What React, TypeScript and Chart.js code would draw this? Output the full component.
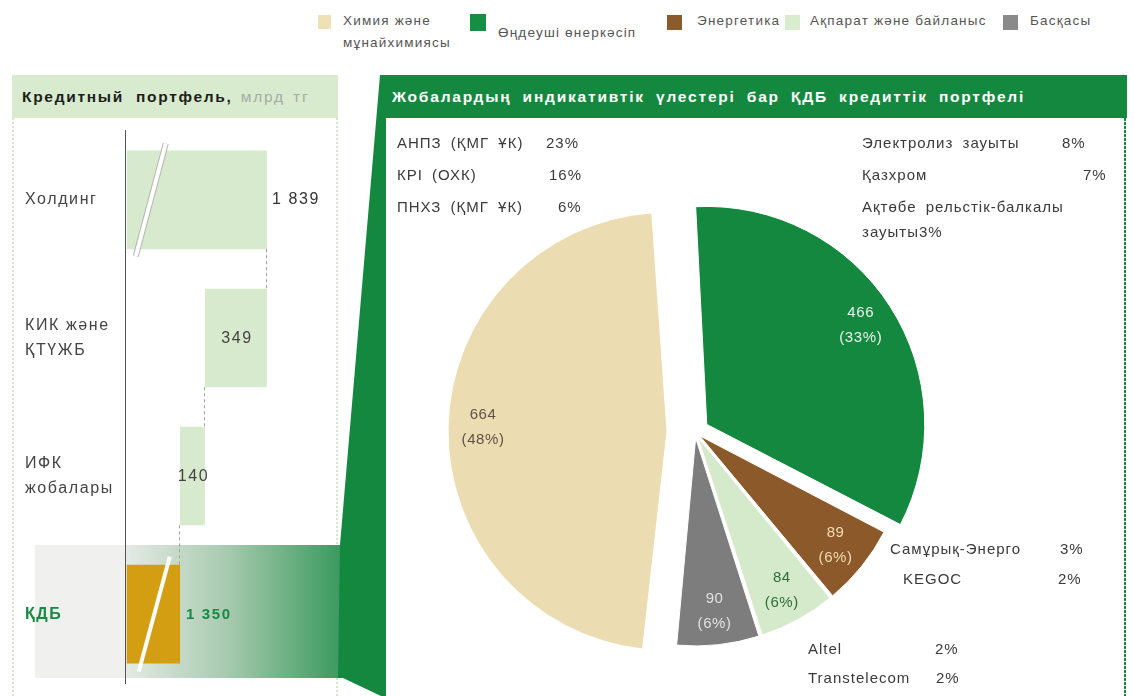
import React, { useEffect, useRef } from 'react';
import { Chart, registerables } from 'chart.js';

Chart.register(...registerables);

const FONT = "'Liberation Sans', Arial, Helvetica, sans-serif";

// ---------- data ----------
// Left panel: credit portfolio, bln tenge
const barCategories = [['Холдинг'], ['КИК және', 'ҚТҮЖБ'], ['ИФК', 'жобалары'], ['ҚДБ']];
const barValues = [1839, 349, 140, 1350];
const kdbShownAs = 300; // ҚДБ bar drawn on a broken (compressed) scale

// Right panel: ҚДБ credit portfolio by sector
const pieLabels = ['Өңдеуші өнеркәсіп', 'Энергетика', 'Ақпарат және байланыс', 'Басқасы', 'Химия және мұнайхимиясы'];
const pieValues = [466, 89, 84, 90, 664];

const legendLabels = [['Химия және', 'мұнайхимиясы'], ['Өңдеуші өнеркәсіп'], ['Энергетика'], ['Ақпарат және байланыс'], ['Басқасы']];

const chemNotes = [['АНПЗ (ҚМГ ҰК)', '23%'], ['КРІ (ОХК)', '16%'], ['ПНХЗ (ҚМГ ҰК)', '6%']];
const industryNotes = [['Электролиз зауыты', '8%'], ['Қазхром', '7%'], ['Ақтөбе рельстік-балкалы', ''], ['зауыты3%', '']];
const energyNotes = [['Самұрық-Энерго', '3%'], ['KEGOC', '2%']];
const telecomNotes = [['Altel', '2%'], ['Transtelecom', '2%']];

// ---------- styles ----------
const GREEN = '#14883f';
const pieColors = [GREEN, '#8c5a2a', '#d5eacb', '#7d7d7d', '#ecdcb1'];
const pieLabelColors = ['#e9f4ec', '#f1dcb4', '#2e6e3a', '#e0e0e0', '#5e5446'];
const pieShift = [14, 6, 6, 6, 28]; // explode distance (px)
const pieOffsets = pieShift.map((s) => s * 4); // Chart.js translates by offset / 4
const pieRadii = [218, 208, 208, 208, 219];
const legendColors = ['#efe1b6', '#139043', '#8c5b2b', '#d8ecd0', '#8a8a8a'];

const fmt = (v: number) => String(v).replace(/\B(?=(\d{3})+(?!\d))/g, ' ');

// floating ranges for the waterfall
const kdbRange = [0, kdbShownAs];
const ifkRange = [kdbRange[1], kdbRange[1] + barValues[2]];
const kikRange = [ifkRange[1], ifkRange[1] + barValues[1]];
const holdingRange = [0, kikRange[1]];
const barRanges = [holdingRange, kikRange, ifkRange, kdbRange];

const barDecor = {
  id: 'barDecor',
  beforeDraw(chart: any) {
    chart.ctx.letterSpacing = '1.6px';
  },
  afterDatasetsDraw(chart: any) {
    const ctx = chart.ctx;
    const bars = chart.getDatasetMeta(0).data.map((b: any) => b.getProps(['x', 'y', 'base', 'height']));
    // dashed connectors
    ctx.save();
    ctx.strokeStyle = '#a0a0a0';
    ctx.lineWidth = 1;
    ctx.setLineDash([3, 3]);
    for (let i = 0; i < bars.length - 1; i++) {
      const a = bars[i];
      const b = bars[i + 1];
      const x = Math.round(b.x) - 0.5;
      ctx.beginPath();
      ctx.moveTo(x, a.y + a.height / 2);
      ctx.lineTo(x, b.y - b.height / 2);
      ctx.stroke();
    }
    ctx.restore();
    // break marks
    const brk = (b: any, dxTop: number, dxBot: number, ext: number, outline: boolean) => {
      const top = b.y - b.height / 2 - ext;
      const bot = b.y + b.height / 2 + ext;
      ctx.save();
      ctx.lineCap = 'butt';
      if (outline) {
        ctx.strokeStyle = '#b5b5b5';
        ctx.lineWidth = 6;
        ctx.beginPath();
        ctx.moveTo(b.base + dxTop, top);
        ctx.lineTo(b.base + dxBot, bot);
        ctx.stroke();
      }
      ctx.strokeStyle = '#ffffff';
      ctx.lineWidth = 4;
      ctx.beginPath();
      ctx.moveTo(b.base + dxTop, top);
      ctx.lineTo(b.base + dxBot, bot);
      ctx.stroke();
      ctx.restore();
    };
    brk(bars[0], 39, 9, 7, true);
    brk(bars[3], 43, 12, 8, false);
    // value labels
    ctx.save();
    ctx.textBaseline = 'middle';
    bars.forEach((b: any, i: number) => {
      const txt = fmt(barValues[i]);
      if (i === 0) {
        ctx.font = `16px ${FONT}`;
        ctx.fillStyle = '#333';
        ctx.textAlign = 'left';
        ctx.fillText(txt, b.x + 5, b.y);
      } else if (i === 3) {
        ctx.font = `bold 15px ${FONT}`;
        ctx.fillStyle = '#178a43';
        ctx.textAlign = 'left';
        ctx.fillText(txt, b.x + 6, b.y + 1);
      } else {
        ctx.font = `16px ${FONT}`;
        ctx.fillStyle = '#444';
        ctx.textAlign = 'center';
        ctx.fillText(txt, (b.x + b.base) / 2 + 1, b.y + 1);
      }
    });
    ctx.restore();
  },
};

const pieDecor = {
  id: 'pieDecor',
  afterDatasetsUpdate(chart: any) {
    chart.getDatasetMeta(0).data.forEach((el: any, i: number) => {
      const circ = el.endAngle - el.startAngle;
      const fix = 1 - Math.sin(Math.min(Math.PI, circ));
      el.outerRadius = pieRadii[i] - pieShift[i] * fix;
    });
  },
  afterDatasetsDraw(chart: any) {
    const ctx = chart.ctx;
    const meta = chart.getDatasetMeta(0);
    const total = pieValues.reduce((a, b) => a + b, 0);
    meta.data.forEach((arc: any, i: number) => {
      const { x, y, startAngle, endAngle } = arc.getProps(['x', 'y', 'startAngle', 'endAngle']);
      const mid = (startAngle + endAngle) / 2;
      const shift = (arc.options.offset || 0) / 4;
      const r = pieRadii[i] * 0.84;
      const cx = x + Math.cos(mid) * (shift + r);
      const cy = y + Math.sin(mid) * (shift + r);
      ctx.save();
      ctx.letterSpacing = '0.6px';
      ctx.font = `15px ${FONT}`;
      ctx.fillStyle = pieLabelColors[i];
      ctx.textAlign = 'center';
      ctx.textBaseline = 'middle';
      ctx.fillText(String(pieValues[i]), cx, cy - 12.5);
      ctx.fillText(`(${Math.round((pieValues[i] / total) * 100)}%)`, cx, cy + 12.5);
      ctx.restore();
    });
  },
};

const T = ({ x, y, children, size = 15, color = '#3a3a3a', ls = 1, weight = 'normal', style = {} }: any) => (
  <div
    style={{
      position: 'absolute',
      left: x,
      top: y,
      transform: 'translateY(-50%)',
      whiteSpace: 'nowrap',
      fontFamily: FONT,
      fontSize: size,
      letterSpacing: ls,
      fontWeight: weight,
      color,
      lineHeight: 1,
      ...style,
    }}
  >
    {children}
  </div>
);

export default function App() {
  const barRef = useRef<HTMLCanvasElement>(null);
  const pieRef = useRef<HTMLCanvasElement>(null);

  useEffect(() => {
    const bar = new Chart(barRef.current!, {
      type: 'bar',
      data: {
        labels: barCategories,
        datasets: [
          {
            data: barRanges as any,
            backgroundColor: ['#d7eacd', '#d7eacd', '#d7eacd', '#d49e12'],
            borderWidth: 0,
            categoryPercentage: 1,
            barPercentage: 0.714,
          },
        ],
      },
      options: {
        indexAxis: 'y',
        animation: false,
        responsive: false,
        maintainAspectRatio: false,
        layout: { padding: { left: 13, right: 18, top: 12, bottom: 6 } },
        plugins: { legend: { display: false }, tooltip: { enabled: false } },
        scales: {
          x: { display: false, min: -10, max: 1088 },
          y: {
            grid: { display: false },
            border: { display: true, color: '#555', width: 1 },
            ticks: {
              crossAlign: 'far',
              padding: 0,
              color: (c: any) => (c.index === 3 ? '#178a43' : '#444'),
              font: (c: any) => ({ family: FONT, size: 16, weight: c.index === 3 ? 'bold' : 'normal', lineHeight: 1.6 }),
            },
            afterFit: (s: any) => {
              s.width = 100;
            },
          },
        },
      },
      plugins: [barDecor],
    } as any);

    const pie = new Chart(pieRef.current!, {
      type: 'pie',
      data: {
        labels: pieLabels,
        datasets: [
          {
            data: pieValues,
            backgroundColor: pieColors,
            borderColor: '#ffffff',
            borderWidth: 1,
            offset: pieOffsets,
          },
        ],
      },
      options: {
        animation: false,
        responsive: false,
        maintainAspectRatio: false,
        radius: 213,
        rotation: -3,
        layout: { padding: 0 },
        plugins: { legend: { display: false }, tooltip: { enabled: false } },
      },
      plugins: [pieDecor],
    } as any);

    return () => {
      bar.destroy();
      pie.destroy();
    };
  }, []);

  const legendPos = [
    { sq: [318, 15, 13, 14], tx: 343, ty: [21, 43] },
    { sq: [470, 14, 16, 17], tx: 498, ty: [33] },
    { sq: [667, 15, 15, 15], tx: 697, ty: [21] },
    { sq: [785, 15, 15, 15], tx: 810, ty: [21] },
    { sq: [1003, 15, 15, 15], tx: 1030, ty: [21] },
  ];

  return (
    <div style={{ position: 'absolute', left: 0, top: 0, width: 1134, height: 696, overflow: 'hidden', background: '#fff' }}>
      {/* legend */}
      {legendLabels.map((lines, i) => (
        <React.Fragment key={i}>
          <div
            style={{
              position: 'absolute',
              left: legendPos[i].sq[0],
              top: legendPos[i].sq[1],
              width: legendPos[i].sq[2],
              height: legendPos[i].sq[3],
              background: legendColors[i],
            }}
          />
          {lines.map((l, j) => (
            <T key={j} x={legendPos[i].tx} y={legendPos[i].ty[j]} size={13.5} ls={1.2} color="#555">
              {l}
            </T>
          ))}
        </React.Fragment>
      ))}

      {/* shapes */}
      <svg width={1134} height={696} style={{ position: 'absolute', left: 0, top: 0 }}>
        <defs>
          <linearGradient id="band" x1="0" x2="1" y1="0" y2="0">
            <stop offset="0" stopColor="#e5eae5" />
            <stop offset="0.45" stopColor="#a9cbb0" />
            <stop offset="1" stopColor="#35975a" />
          </linearGradient>
        </defs>
        {/* left panel */}
        <rect x={12} y={75} width={326} height={43} fill="#d9ebcf" />
        <line x1={13} y1={118} x2={13} y2={696} stroke="#d3e6c9" strokeWidth={2} strokeDasharray="2 2" />
        <line x1={337} y1={118} x2={337} y2={696} stroke="#d3e6c9" strokeWidth={2} strokeDasharray="2 2" />
        <rect x={35} y={545} width={90} height={133} fill="#f0f1ee" />
        <rect x={125} y={545} width={222} height={133} fill="url(#band)" />
        {/* funnel */}
        <polygon points="380,75 386,75 386,696 381,696 343,678 338,678 340,545" fill={GREEN} />
        {/* right panel */}
        <rect x={382} y={75} width={745} height={43} fill={GREEN} />
        <line x1={1125} y1={118} x2={1125} y2={696} stroke={GREEN} strokeWidth={2} strokeDasharray="3 1" />
      </svg>

      <canvas ref={barRef} width={326} height={578} style={{ position: 'absolute', left: 12, top: 118, width: 326, height: 578 }} />
      <canvas ref={pieRef} width={600} height={600} style={{ position: 'absolute', left: 395, top: 132, width: 600, height: 600 }} />

      {/* headers */}
      <div style={{ position: 'absolute', left: 22, top: 97, transform: 'translateY(-50%)', whiteSpace: 'nowrap', fontFamily: FONT, fontSize: 15.5, lineHeight: 1 }}>
        <span style={{ fontWeight: 'bold', color: '#1e1e1e', letterSpacing: 1.7, wordSpacing: 6 }}>Кредитный портфель,</span>
        <span style={{ color: '#a5ada5', letterSpacing: 1.8, wordSpacing: 2 }}> млрд тг</span>
      </div>
      <T x={392} y={97} size={15.5} weight="bold" color="#ffffff" ls={1.8} style={{ wordSpacing: 5 }}>
        Жобалардың индикативтік үлестері бар ҚДБ кредиттік портфелі
      </T>

      {/* annotations */}
      {chemNotes.map(([n, p], i) => (
        <React.Fragment key={'c' + i}>
          <T x={397} y={142 + i * 32} style={{ wordSpacing: 4 }}>{n}</T>
          <T x={[546, 549, 558][i]} y={142 + i * 32}>{p}</T>
        </React.Fragment>
      ))}
      {industryNotes.map(([n, p], i) => (
        <React.Fragment key={'n' + i}>
          <T x={862} y={[142, 174, 206, 231][i]} style={{ wordSpacing: 4 }}>{n}</T>
          {p && <T x={[1062, 1083][i]} y={[142, 174][i]}>{p}</T>}
        </React.Fragment>
      ))}
      {energyNotes.map(([n, p], i) => (
        <React.Fragment key={'e' + i}>
          <T x={[890, 903][i]} y={548 + i * 30}>{n}</T>
          <T x={[1060, 1058][i]} y={548 + i * 30}>{p}</T>
        </React.Fragment>
      ))}
      {telecomNotes.map(([n, p], i) => (
        <React.Fragment key={'t' + i}>
          <T x={808} y={648 + i * 29}>{n}</T>
          <T x={[935, 936][i]} y={648 + i * 29}>{p}</T>
        </React.Fragment>
      ))}
    </div>
  );
}
